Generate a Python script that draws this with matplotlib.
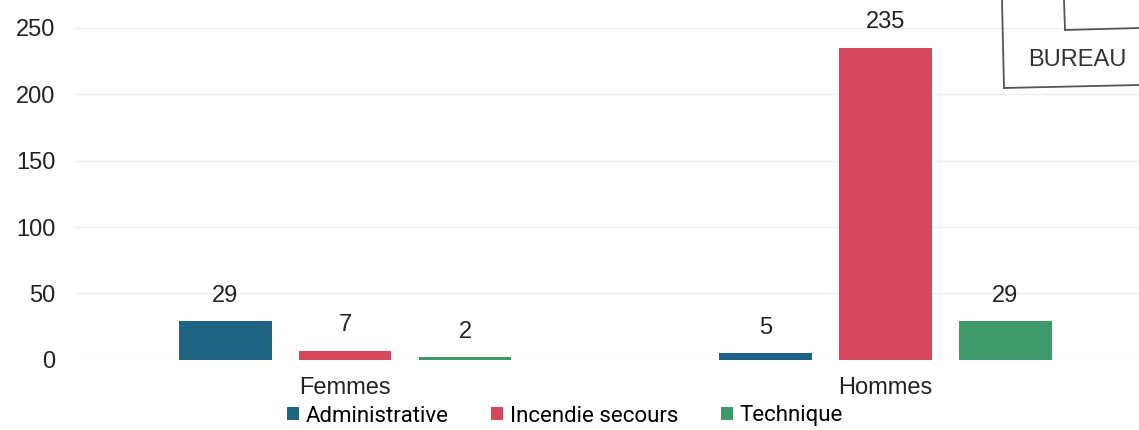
import numpy as np
import matplotlib.pyplot as plt
from matplotlib.lines import Line2D
from matplotlib.patches import Patch

# data
groups = ["Femmes", "Hommes"]
series = ["Administrative", "Incendie secours", "Technique"]
administrative = [29, 5]
incendie = [7, 235]
technique = [2, 29]
colors = ["#1f6482", "#d5475c", "#3f9a6b"]
y_ticks = [0, 50, 100, 150, 200, 250]

values = [administrative, incendie, technique]
fs = 17

fig = plt.figure(figsize=(11.39, 4.30), dpi=100)
ax = fig.add_axes([75 / 1139, 0.163, 1.0 - 75 / 1139, 0.834])

x = np.arange(len(groups))
width = 0.172
offset = 0.222

for i, (name, vals) in enumerate(zip(series, values)):
    pos = x + (i - 1) * offset
    bars = ax.bar(pos, vals, width, color=colors[i], label=name, zorder=3)
    for b, v in zip(bars, vals):
        ax.text(b.get_x() + b.get_width() / 2, v + 11, str(v),
                ha="center", va="bottom", fontsize=fs,
                family="Liberation Sans", color="#222222")

ax.set_xlim(-0.5, 1.47)
ax.set_ylim(0, 270)
ax.set_yticks(y_ticks)
ax.set_yticklabels([str(t) for t in y_ticks], family="Liberation Sans",
                   fontsize=fs, color="#222222")
ax.set_xticks(x)
ax.set_xticklabels(groups, family="Liberation Sans", fontsize=fs,
                   color="#222222")
ax.tick_params(axis="both", length=0)
ax.tick_params(axis="y", pad=14)
ax.tick_params(axis="x", pad=12)
ax.grid(axis="y", color="#ececec", linewidth=1, zorder=0)
for s in ax.spines.values():
    s.set_visible(False)

handles = [Patch(facecolor=c, edgecolor="none") for c in colors]
fig.legend(handles, series, loc="center", ncol=3,
           bbox_to_anchor=(565 / 1139, 1 - 416 / 430), frameon=False,
           prop={"family": "Roboto", "size": 16}, handlelength=0.55,
           handleheight=0.55, handletextpad=0.3, columnspacing=1.9,
           borderpad=0.1)

# scanned stamp in the upper-right corner
stamp = dict(color="#555555", linewidth=1.3, transform=fig.transFigure)
fig.add_artist(Line2D([1002 / 1139, 1004 / 1139], [1.0, 1 - 88 / 430], **stamp))
fig.add_artist(Line2D([1004 / 1139, 1.0], [1 - 88 / 430, 1 - 85 / 430], **stamp))
fig.add_artist(Line2D([1064 / 1139, 1065 / 1139], [1.0, 1 - 30 / 430], **stamp))
fig.add_artist(Line2D([1065 / 1139, 1.0], [1 - 30 / 430, 1 - 28 / 430], **stamp))
fig.text(1028 / 1139, 1 - 60 / 430, "BUREAU", fontsize=17,
         family="Liberation Sans", color="#333333", va="center", ha="left")

fig.savefig("out.png", dpi=100, facecolor="white")
